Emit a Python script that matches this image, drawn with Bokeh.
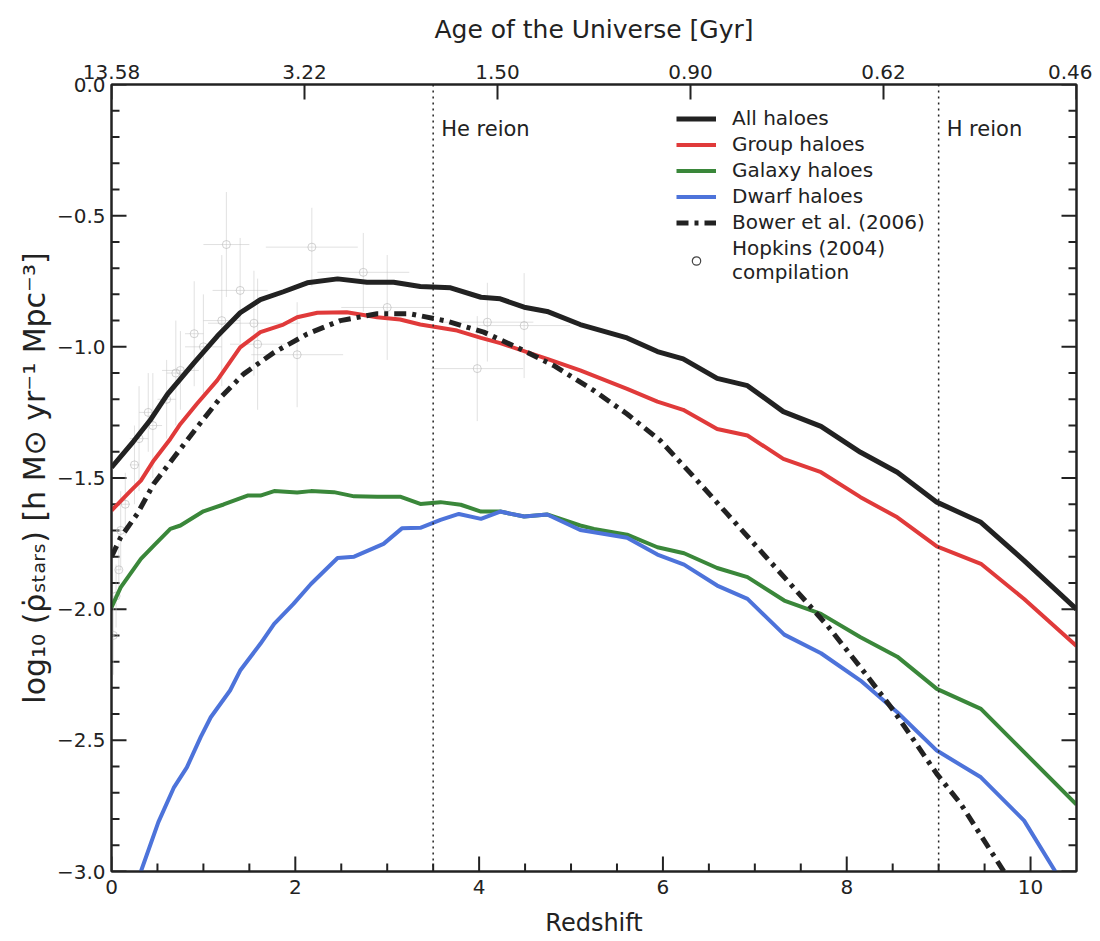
import numpy as np
from bokeh.plotting import figure
from bokeh.models import Range1d, LinearAxis, FixedTicker, Span, Label, Legend, LegendItem
from bokeh.embed import file_html
from bokeh.resources import INLINE

# ---------------- data ----------------
z_all = [0, 0.24, 0.42, 0.61, 0.90, 1.15, 1.40, 1.62, 1.87, 2.13, 2.46, 2.78, 3.07, 3.36, 3.69,
         4.02, 4.23, 4.49, 4.74, 5.10, 5.61, 5.94, 6.22, 6.59, 6.92, 7.31, 7.72, 8.15, 8.55,
         8.98, 9.46, 9.93, 10.5]
sfr_all = [-1.46, -1.36, -1.28, -1.18, -1.06, -0.96, -0.87, -0.82, -0.79, -0.756, -0.741, -0.754,
           -0.754, -0.77, -0.775, -0.811, -0.817, -0.849, -0.865, -0.915, -0.966, -1.018, -1.046,
           -1.12, -1.148, -1.247, -1.303, -1.402, -1.478, -1.592, -1.669, -1.815, -2.0]

z_grp = [0, 0.21, 0.32, 0.46, 0.64, 0.75, 0.93, 1.15, 1.40, 1.62, 1.87, 2.02, 2.24, 2.56, 2.89,
         3.14, 3.36, 3.76, 4.02, 4.23, 4.74, 5.10, 5.61, 5.94, 6.22, 6.59, 6.92, 7.31, 7.72,
         8.15, 8.55, 8.98, 9.46, 9.93, 10.5]
sfr_grp = [-1.624, -1.548, -1.51, -1.433, -1.351, -1.294, -1.217, -1.128, -1.002, -0.944, -0.915,
           -0.887, -0.87, -0.868, -0.887, -0.896, -0.915, -0.938, -0.966, -0.986, -1.046, -1.09,
           -1.16, -1.209, -1.24, -1.313, -1.338, -1.427, -1.478, -1.573, -1.65, -1.761, -1.827,
           -1.961, -2.14]

z_gal = [0, 0.10, 0.32, 0.46, 0.64, 0.75, 1.00, 1.22, 1.48, 1.62, 1.77, 2.02, 2.17, 2.42, 2.64,
         2.89, 3.14, 3.36, 3.58, 3.80, 4.02, 4.23, 4.49, 4.74, 5.10, 5.25, 5.61, 5.94, 6.23,
         6.59, 6.92, 7.32, 7.72, 8.15, 8.55, 8.98, 9.46, 9.93, 10.5]
sfr_gal = [-1.993, -1.917, -1.808, -1.758, -1.694, -1.681, -1.627, -1.601, -1.567, -1.567, -1.55,
           -1.555, -1.55, -1.554, -1.57, -1.571, -1.571, -1.599, -1.592, -1.602, -1.628, -1.628,
           -1.647, -1.639, -1.681, -1.694, -1.716, -1.764, -1.787, -1.843, -1.878, -1.967,
           -2.018, -2.107, -2.181, -2.304, -2.38, -2.545, -2.745]

z_dwf = [0.32, 0.51, 0.68, 0.82, 0.97, 1.08, 1.29, 1.40, 1.62, 1.77, 1.98, 2.17, 2.46, 2.64,
         2.96, 3.16, 3.36, 3.58, 3.78, 4.02, 4.23, 4.49, 4.74, 5.10, 5.25, 5.61, 5.94, 6.23,
         6.59, 6.92, 7.32, 7.72, 8.15, 8.55, 8.98, 9.46, 9.93, 10.27]
sfr_dwf = [-3.0, -2.812, -2.679, -2.603, -2.488, -2.412, -2.31, -2.234, -2.132, -2.056, -1.98,
           -1.904, -1.805, -1.8, -1.751, -1.692, -1.69, -1.66, -1.637, -1.656, -1.628, -1.647,
           -1.639, -1.698, -1.707, -1.728, -1.792, -1.83, -1.91, -1.961, -2.097, -2.168, -2.272,
           -2.393, -2.539, -2.641, -2.806, -3.0]

z_bow = [0, 0.10, 0.28, 0.46, 0.68, 0.93, 1.19, 1.44, 1.77, 2.13, 2.49, 2.89, 3.25, 3.65, 4.05,
         4.45, 4.81, 5.25, 5.61, 5.97, 6.34, 6.70, 7.06, 7.42, 7.79, 8.15, 8.51, 8.98, 9.24, 9.71]
sfr_bow = [-1.80, -1.726, -1.637, -1.522, -1.421, -1.307, -1.192, -1.103, -1.021, -0.951, -0.9,
           -0.874, -0.874, -0.902, -0.944, -1.008, -1.071, -1.167, -1.256, -1.357, -1.497,
           -1.637, -1.777, -1.917, -2.063, -2.222, -2.387, -2.628, -2.742, -3.0]

# Hopkins (2004) compilation (faint points)
hop_z = [0.02, 0.05, 0.08, 0.1, 0.15, 0.25, 0.3, 0.4, 0.45, 0.6, 0.7, 0.75, 0.9, 1.0, 1.2,
         1.25, 1.4, 1.55, 1.59, 2.02, 2.18, 2.74, 3.0, 3.98, 4.09, 4.49]
hop_v = [-2.1, -1.95, -1.85, -1.7, -1.6, -1.45, -1.35, -1.25, -1.3, -1.2, -1.1, -1.09, -0.95,
         -1.0, -0.9, -0.61, -0.785, -0.91, -0.99, -1.03, -0.62, -0.716, -0.85, -1.083, -0.906,
         -0.919]
hop_dy = [0.15, 0.12, 0.1, 0.15, 0.12, 0.15, 0.2, 0.15, 0.2, 0.15, 0.2, 0.15, 0.2, 0.2, 0.25,
          0.2, 0.2, 0.2, 0.25, 0.2, 0.15, 0.15, 0.2, 0.2, 0.15, 0.2]
hop_dx = [0.02, 0.03, 0.03, 0.05, 0.05, 0.05, 0.1, 0.1, 0.1, 0.1, 0.1, 0.2, 0.1, 0.2, 0.2,
          0.25, 0.3, 0.5, 0.3, 0.5, 0.5, 0.5, 0.5, 0.5, 0.5, 0.5]

x_major = [0, 2, 4, 6, 8, 10]
x_minor = [0.5, 1, 1.5, 2.5, 3, 3.5, 4.5, 5, 5.5, 6.5, 7, 7.5, 8.5, 9, 9.5]
y_major = [0, -0.5, -1, -1.5, -2, -2.5, -3]
age_tick_z = [0, 2.1, 4.2, 6.3, 8.4, 10.5]
age_labels = ["13.58", "3.22", "1.50", "0.90", "0.62", "0.46"]
reion_z = [3.5, 9.0]
reion_labels = ["He reion", "H reion"]

FONT = "DejaVu Sans"
X0, X1, Y0, Y1 = 0, 10.5, -3, 0
FW, FH = 965, 787

p = figure(frame_width=FW, frame_height=FH, x_range=Range1d(X0, X1), y_range=Range1d(Y0, Y1),
           output_backend="svg", toolbar_location=None,
           min_border_left=111, min_border_right=16, min_border_top=84, min_border_bottom=68,
           x_axis_location=None, y_axis_location=None)
p.grid.visible = False
p.outline_line_color = "#222222"
p.outline_line_width = 2
p.background_fill_color = "white"
p.border_fill_color = "white"


def style(ax, label_size="20px"):
    ax.axis_line_width = 2
    ax.axis_line_color = "#222222"
    ax.major_tick_in = 0
    ax.major_tick_out = 0
    ax.minor_tick_in = 0
    ax.minor_tick_out = 0
    ax.major_label_text_font = FONT
    ax.major_label_text_font_size = label_size
    ax.major_label_text_color = "#222222"
    ax.axis_label_text_font = FONT
    ax.axis_label_text_font_style = "normal"
    ax.axis_label_text_font_size = "24px"
    ax.axis_label_text_color = "#222222"


xb = LinearAxis(axis_label="Redshift")
xb.ticker = FixedTicker(ticks=x_major, minor_ticks=[])
style(xb)
xb.major_label_standoff = 8
xb.axis_label_standoff = 12
p.add_layout(xb, "below")

xt = LinearAxis(axis_label="Age of the Universe [Gyr]")
xt.ticker = FixedTicker(ticks=age_tick_z, minor_ticks=[])
xt.major_label_overrides = {t: s for t, s in zip(age_tick_z, age_labels)}
style(xt)
xt.axis_label_text_font_size = "25px"
xt.major_label_standoff = 6
xt.axis_label_standoff = 18
p.add_layout(xt, "above")

yl = LinearAxis(axis_label="log\u2081\u2080 (\u03c1\u0307\u209b\u209c\u2090\u1d63\u209b) [h M\u2299 yr\u207b\u00b9 Mpc\u207b\u00b3]")
yl.ticker = FixedTicker(ticks=y_major, minor_ticks=[])
yl.major_label_overrides = {t: ("%.1f" % t).replace("-", "\u2212") for t in y_major}
style(yl)
yl.axis_label_text_font_size = "30px"
yl.major_label_standoff = 6
yl.axis_label_standoff = 2
p.add_layout(yl, "left")

yr = LinearAxis()
yr.ticker = FixedTicker(ticks=[], minor_ticks=[])
style(yr)
p.add_layout(yr, "right")


def xlen(px):
    return px * (X1 - X0) / FW


def ylen(px):
    return px * (Y1 - Y0) / FH


y_minor = [v for v in np.round(np.arange(-3, 0.001, 0.1), 2) if v not in y_major]
tick_kw = dict(line_color="#222222", line_width=2)
p.segment(x_major, [Y0] * 6, x_major, [Y0 + ylen(15)] * 6, **tick_kw)
p.segment(x_minor, [Y0] * len(x_minor), x_minor, [Y0 + ylen(8)] * len(x_minor), **tick_kw)
p.segment(age_tick_z, [Y1] * 6, age_tick_z, [Y1 - ylen(15)] * 6, **tick_kw)
for xe, sgn in ((X0, 1), (X1, -1)):
    p.segment([xe] * len(y_major), y_major, [xe + sgn * xlen(15)] * len(y_major), y_major, **tick_kw)
    p.segment([xe] * len(y_minor), y_minor, [xe + sgn * xlen(8)] * len(y_minor), y_minor, **tick_kw)

for zr, lab in zip(reion_z, reion_labels):
    p.add_layout(Span(location=zr, dimension="height", line_color="#222222", line_width=1.5,
                      line_dash="2 4"))
    p.add_layout(Label(x=zr, y=-0.17, x_offset=8, text=lab, text_font=FONT,
                       text_font_size="21px", text_color="#222222", text_baseline="middle"))

hz = np.array(hop_z); hv = np.array(hop_v); hdy = np.array(hop_dy); hdx = np.array(hop_dx)
p.segment(hz, hv - hdy, hz, hv + hdy, line_color="#c4c4c4", line_width=1, line_alpha=0.5)
p.segment(hz - hdx, hv, hz + hdx, hv, line_color="#c4c4c4", line_width=1, line_alpha=0.5)
p.scatter(hz, hv, marker="circle", size=8, fill_color=None, line_color="#b4b4b4",
          line_alpha=0.6, line_width=1)

r_all = p.line(z_all, sfr_all, line_color="#222222", line_width=5)
r_grp = p.line(z_grp, sfr_grp, line_color="#e03a3a", line_width=4)
r_gal = p.line(z_gal, sfr_gal, line_color="#3a873a", line_width=4)
r_dwf = p.line(z_dwf, sfr_dwf, line_color="#4d73da", line_width=4)
r_bow = p.line(z_bow, sfr_bow, line_color="#222222", line_width=5, line_dash="12 6 4 6")

r_hop_leg = p.scatter([-10], [-10], marker="circle", size=9, fill_color=None,
                      line_color="#444444", line_width=1.2)

legend = Legend(items=[
    LegendItem(label="All haloes", renderers=[r_all]),
    LegendItem(label="Group haloes", renderers=[r_grp]),
    LegendItem(label="Galaxy haloes", renderers=[r_gal]),
    LegendItem(label="Dwarf haloes", renderers=[r_dwf]),
    LegendItem(label="Bower et al. (2006)", renderers=[r_bow]),
    LegendItem(label="Hopkins (2004)\ncompilation", renderers=[r_hop_leg]),
], location=(557, 579))
legend.border_line_alpha = 0
legend.background_fill_alpha = 0
legend.label_text_font = FONT
legend.label_text_font_size = "20px"
legend.label_text_color = "#222222"
legend.glyph_width = 40
legend.glyph_height = 21
legend.label_standoff = 16
legend.spacing = 2
legend.padding = 8
legend.margin = 0
legend.label_height = 21
p.add_layout(legend)

open("out.html", "w").write(file_html(p, INLINE))
